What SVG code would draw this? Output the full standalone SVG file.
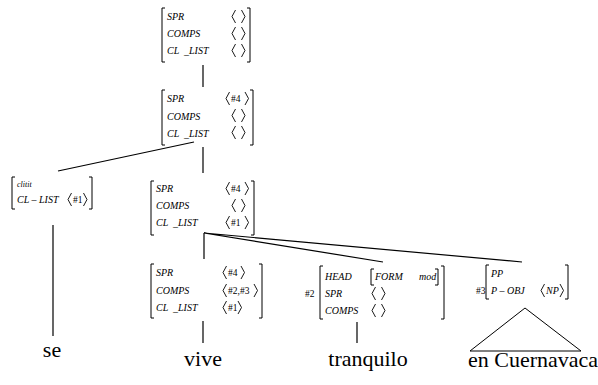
<svg xmlns="http://www.w3.org/2000/svg" width="598" height="385" viewBox="0 0 598 385">
  <style>
    .f { font-style: italic; font-size: 10px; }
    .n { font-size: 9.5px; }
    .sm { font-style: italic; font-size: 8px; }
    .lbl { font-size: 22px; text-anchor: middle; }
    .br { fill: none; stroke: #000; stroke-width: 1; }
    .ang { fill: none; stroke: #000; stroke-width: 0.9; }
    .edge { fill: none; stroke: #000; stroke-width: 1.2; }
  </style>
  <rect width="598" height="385" fill="#fff"/>

  <!-- tree branches -->
  <g id="connectors">
    <line class="edge" x1="203" y1="65" x2="203" y2="87"/>
    <line class="edge" x1="194" y1="142" x2="58" y2="171"/>
    <line class="edge" x1="203" y1="147" x2="203" y2="173"/>
    <line class="edge" x1="53" y1="225" x2="53" y2="336"/>
    <line class="edge" x1="204" y1="233" x2="204" y2="259"/>
    <polyline class="edge" points="383,262 204,233 522,262"/>
    <line class="edge" x1="203" y1="321" x2="203" y2="343"/>
    <line class="edge" x1="357" y1="322" x2="357" y2="343"/>
  </g>

  <g font-family="Times New Roman, Liberation Serif, Tinos, Noto Serif, DejaVu Serif, FreeSerif, serif" fill="#000">
  <!-- root: SPR <> COMPS <> CL_LIST <> -->
  <g id="avm-root">
    <path class="br" d="M165,8 H162 V62 H165"/>
    <path class="br" d="M247,8 H250 V62 H247"/>
    <text class="f" x="167" y="20">SPR</text>
    <text class="f" x="167" y="37">COMPS</text>
    <text class="f" x="167" y="54" xml:space="preserve">CL  _LIST</text>
    <path class="ang" d="M235.5,10 L232,16.5 L235.5,23 M241.5,10 L245,16.5 L241.5,23"/>
    <path class="ang" d="M235.5,27 L232,33.5 L235.5,40 M241.5,27 L245,33.5 L241.5,40"/>
    <path class="ang" d="M235.5,44 L232,50.5 L235.5,57 M241.5,44 L245,50.5 L241.5,57"/>
  </g>

  <!-- clause node: SPR <#4> -->
  <g id="avm-s">
    <path class="br" d="M165,90 H162 V145 H165"/>
    <path class="br" d="M250,90 H253 V145 H250"/>
    <text class="f" x="167" y="102">SPR</text>
    <text class="f" x="167" y="120">COMPS</text>
    <text class="f" x="167" y="137" xml:space="preserve">CL  _LIST</text>
    <path class="ang" d="M229.5,92 L226,98.5 L229.5,105"/>
    <text class="n" x="231" y="102">#4</text>
    <path class="ang" d="M245,92 L248.5,98.5 L245,105"/>
    <path class="ang" d="M235.5,109 L232,115.5 L235.5,122 M241.5,109 L245,115.5 L241.5,122"/>
    <path class="ang" d="M235.5,126 L232,132.5 L235.5,139 M241.5,126 L245,132.5 L241.5,139"/>
  </g>

  <!-- clitic -->
  <g id="avm-clitic">
    <path class="br" d="M15,177 H12 V209 H15"/>
    <path class="br" d="M89,177 H92 V209 H89"/>
    <text class="sm" x="17" y="187">clitit</text>
    <text class="f" x="17" y="203">CL – LIST</text>
    <path class="ang" d="M71.5,193 L68,199.5 L71.5,206"/>
    <text class="n" x="73" y="203">#1</text>
    <path class="ang" d="M83.5,193 L87,199.5 L83.5,206"/>
  </g>

  <!-- verb phrase node -->
  <g id="avm-vp">
    <path class="br" d="M154,181 H151 V235 H154"/>
    <path class="br" d="M251,181 H254 V235 H251"/>
    <text class="f" x="156" y="192">SPR</text>
    <text class="f" x="156" y="209">COMPS</text>
    <text class="f" x="156" y="226" xml:space="preserve">CL  _LIST</text>
    <path class="ang" d="M229.5,182 L226,188.5 L229.5,195"/>
    <text class="n" x="231" y="192">#4</text>
    <path class="ang" d="M245,182 L248.5,188.5 L245,195"/>
    <path class="ang" d="M235.5,199 L232,205.5 L235.5,212 M241.5,199 L245,205.5 L241.5,212"/>
    <path class="ang" d="M229.5,216 L226,222.5 L229.5,229"/>
    <text class="n" x="231" y="226">#1</text>
    <path class="ang" d="M245,216 L248.5,222.5 L245,229"/>
  </g>

  <!-- verb -->
  <g id="avm-verb">
    <path class="br" d="M154,264 H151 V318 H154"/>
    <path class="br" d="M259,264 H262 V318 H259"/>
    <text class="f" x="156" y="276">SPR</text>
    <text class="f" x="156" y="294">COMPS</text>
    <text class="f" x="156" y="311" xml:space="preserve">CL  _LIST</text>
    <path class="ang" d="M226.5,266 L223,272.5 L226.5,279"/>
    <text class="n" x="228" y="276">#4</text>
    <path class="ang" d="M241,266 L244.5,272.5 L241,279"/>
    <path class="ang" d="M226.5,284 L223,290.5 L226.5,297"/>
    <text class="n" x="228" y="294">#2,#3</text>
    <path class="ang" d="M254,284 L257.5,290.5 L254,297"/>
    <path class="ang" d="M226.5,301 L223,307.5 L226.5,314"/>
    <text class="n" x="228" y="311">#1</text>
    <path class="ang" d="M238,301 L241.5,307.5 L238,314"/>
  </g>

  <!-- adjective complement #2 -->
  <g id="avm-adj">
    <text class="n" x="305" y="297">#2</text>
    <path class="br" d="M323,266 H320 V319 H323"/>
    <path class="br" d="M441,266 H444 V319 H441"/>
    <text class="f" x="325" y="280">HEAD</text>
    <text class="f" x="325" y="297">SPR</text>
    <text class="f" x="325" y="314">COMPS</text>
    <path class="br" d="M374,269 H371 V285 H374"/>
    <text class="f" x="375" y="280">FORM</text>
    <text class="f" x="419" y="280">mod</text>
    <path class="br" d="M435,269 H438 V285 H435"/>
    <path class="ang" d="M375.5,287 L372,293.5 L375.5,300 M381.5,287 L385,293.5 L381.5,300"/>
    <path class="ang" d="M375.5,304 L372,310.5 L375.5,317 M381.5,304 L385,310.5 L381.5,317"/>
  </g>

  <!-- prepositional complement #3 -->
  <g id="avm-pp">
    <text class="n" x="476" y="294">#3</text>
    <path class="br" d="M489,265 H486 V299 H489"/>
    <path class="br" d="M565,265 H568 V299 H565"/>
    <text class="f" x="491" y="277">PP</text>
    <text class="f" x="491" y="294">P – OBJ</text>
    <path class="ang" d="M544.5,284 L541,290.5 L544.5,297"/>
    <text class="f" x="546" y="294">NP</text>
    <path class="ang" d="M560,284 L563.5,290.5 L560,297"/>
  </g>

  <!-- leaves -->
  <g id="leaf-se"><text class="lbl" x="52" y="357">se</text></g>
  <g id="leaf-vive"><text class="lbl" x="203" y="366">vive</text></g>
  <g id="leaf-tranquilo"><text class="lbl" x="368" y="366">tranquilo</text></g>
  <g id="leaf-pp">
    <polygon class="br" points="525,308 470,351 581,351"/>
    <text class="lbl" x="533" y="367">en Cuernavaca</text>
  </g>
  </g>
</svg>
